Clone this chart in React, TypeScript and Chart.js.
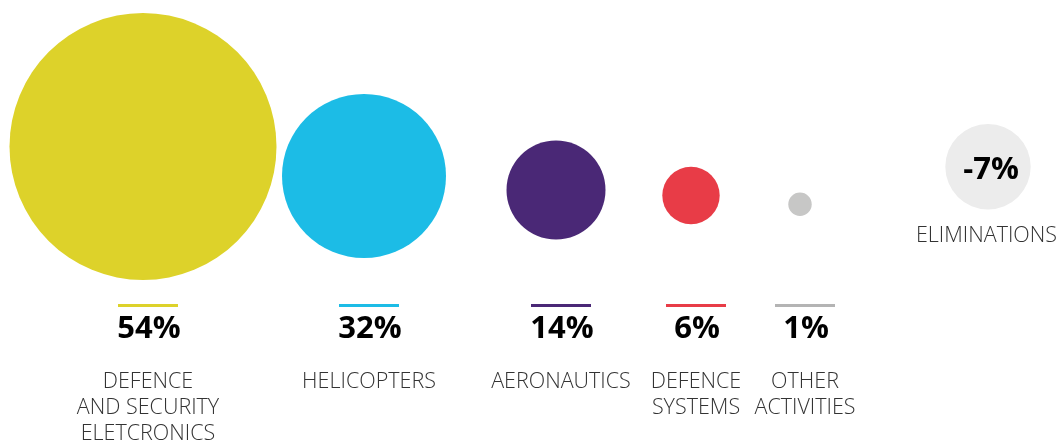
import React, { useEffect, useRef } from "react";
import { Chart, registerables } from "chart.js";

Chart.register(...registerables);

// ---- data ----
const categories: string[][] = [
  ["DEFENCE", "AND SECURITY", "ELETCRONICS"],
  ["HELICOPTERS"],
  ["AERONAUTICS"],
  ["DEFENCE", "SYSTEMS"],
  ["OTHER", "ACTIVITIES"],
  ["ELIMINATIONS"],
];
const shares: number[] = [54, 32, 14, 6, 1, -7];
const shareLabels: string[] = ["54%", "32%", "14%", "6%", "1%", "-7%"];

// ---- layout (canvas pixel units) ----
const bubbleX: number[] = [143, 364, 556, 691, 800, 988];
const bubbleY: number[] = [146.5, 176, 190, 195.5, 204.3, 166.7];
const bubbleR: number[] = [133.5, 82, 49.5, 28.7, 11.7, 42.7];

// ---- styles ----
const fillColors: string[] = ["#DDD22A", "#1CBCE6", "#4A2876", "#E83C47", "#C7C7C6", "#ECECEC"];
const lineColors: string[] = ["#DDD22A", "#1CBCE6", "#4A2876", "#E83C47", "#B4B4B4", "#ECECEC"];

const W = 1063;
const H = 446;
const BOLD = "700 31px 'Open Sans'";
const LIGHT = "300 21.5px 'Open Sans'";

const labelPlugin = {
  id: "bubbleLabels",
  afterDatasetsDraw(chart: any) {
    const ctx = chart.ctx as CanvasRenderingContext2D;
    const meta = chart.getDatasetMeta(0);
    ctx.save();
    meta.data.forEach((el: any, i: number) => {
      const cx = el.x;
      const cy = el.y;
      const isElim = shares[i] < 0;
      ctx.textAlign = "center";
      ctx.textBaseline = "alphabetic";
      if (!isElim) {
        const lx = cx + 5;
        ctx.fillStyle = lineColors[i];
        ctx.fillRect(lx - 30, 304, 60, 3);
        ctx.fillStyle = "#000000";
        ctx.font = BOLD;
        ctx.fillText(shareLabels[i], lx + 1, 337.5);
        ctx.fillStyle = "#333333";
        ctx.font = LIGHT;
        categories[i].forEach((line, k) => {
          ctx.fillText(line, lx, 388 + k * 26);
        });
      } else {
        ctx.fillStyle = "#000000";
        ctx.font = BOLD;
        ctx.fillText(shareLabels[i], cx + 3, 178.5);
        ctx.fillStyle = "#333333";
        ctx.font = LIGHT;
        categories[i].forEach((line, k) => {
          ctx.fillText(line, cx - 1.5, 242 + k * 26);
        });
      }
    });
    ctx.restore();
  },
};

export default function App() {
  const ref = useRef<HTMLCanvasElement | null>(null);
  useEffect(() => {
    if (!ref.current) return;
    const chart = new Chart(ref.current, {
      type: "bubble",
      data: {
        datasets: [
          {
            data: shares.map((v, i) => ({ x: bubbleX[i], y: bubbleY[i], r: bubbleR[i], v })),
            backgroundColor: fillColors,
            borderWidth: 0,
            hoverRadius: 0,
            clip: false as any,
          },
        ],
      },
      options: {
        animation: false,
        responsive: false,
        events: [],
        layout: { padding: 0, autoPadding: false },
        plugins: { legend: { display: false }, tooltip: { enabled: false } },
        scales: {
          x: { type: "linear", min: 0, max: W, display: false },
          y: { type: "linear", min: 0, max: H, reverse: true, display: false },
        },
      },
      plugins: [labelPlugin],
    });
    return () => chart.destroy();
  }, []);
  return (
    <div style={{ position: "fixed", left: 0, top: 0, width: W, height: H, background: "#fff" }}>
      <canvas ref={ref} width={W} height={H} style={{ width: W, height: H, display: "block" }} />
    </div>
  );
}
